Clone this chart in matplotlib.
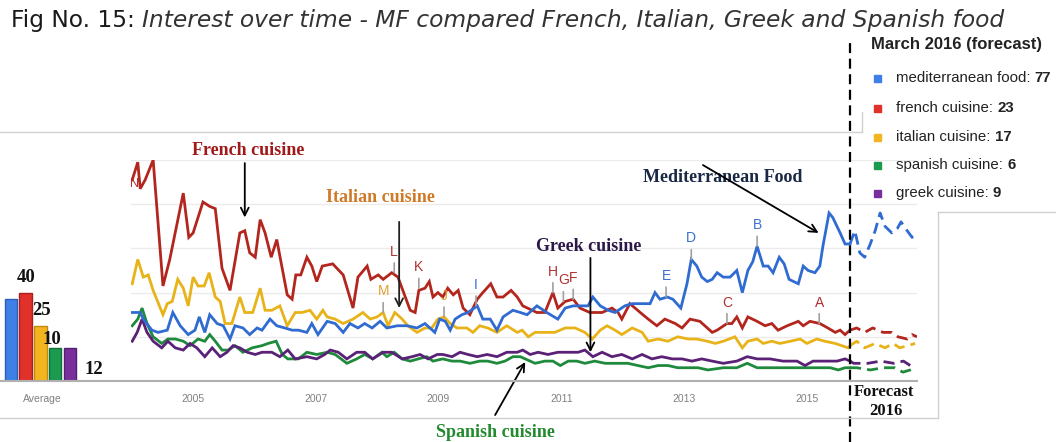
import matplotlib
matplotlib.use("Agg")
import matplotlib.pyplot as plt
from matplotlib.lines import Line2D

W, H = 1056, 442

# ---------------- data ----------------
med_t = [2004.02,2004.15,2004.20,2004.34,2004.44,2004.59,2004.68,2004.80,2004.93,2005.04,2005.11,2005.20,2005.28,2005.40,2005.50,2005.61,2005.69,2005.82,2005.93,2006.05,2006.13,2006.26,2006.37,2006.50,2006.62,2006.72,2006.86,2006.94,2007.04,2007.19,2007.32,2007.45,2007.56,2007.69,2007.80,2007.92,2008.05,2008.16,2008.33,2008.49,2008.65,2008.78,2008.94,2009.02,2009.11,2009.19,2009.27,2009.38,2009.48,2009.63,2009.72,2009.84,2009.95,2010.05,2010.21,2010.33,2010.44,2010.60,2010.76,2010.94,2011.06,2011.19,2011.33,2011.43,2011.51,2011.63,2011.76,2011.87,2012.03,2012.15,2012.28,2012.44,2012.52,2012.60,2012.72,2012.81,2012.94,2013.04,2013.11,2013.20,2013.28,2013.37,2013.45,2013.53,2013.63,2013.74,2013.85,2013.94,2014.03,2014.11,2014.18,2014.28,2014.36,2014.44,2014.54,2014.62,2014.70,2014.85,2014.93,2015.01,2015.12,2015.20,2015.25,2015.35,2015.41,2015.53,2015.61,2015.69]
med_v = [31,31,28,23,22,23,31,25,21,23,29,22,30,26,25,19,25,24,21,24,23,28,25,24,23,23,22,26,21,27,26,22,26,24,26,24,27,24,25,25,24,26,22,28,27,23,28,30,31,34,28,28,23,29,32,31,30,34,31,28,33,34,34,34,38,34,32,31,34,35,35,35,40,37,38,37,33,44,55,52,47,45,46,49,47,47,50,40,50,54,61,52,52,49,56,53,46,44,52,50,49,52,61,76,74,67,62,62]
med_ft = [2015.69,2015.77,2015.85,2015.93,2016.02,2016.10,2016.18,2016.26,2016.37,2016.46,2016.52,2016.62,2016.70,2016.78]
med_fv = [62,68,58,56,62,68,76,70,67,69,72,68,65,67]

fr_t = [2004.02,2004.11,2004.15,2004.23,2004.36,2004.52,2004.63,2004.85,2004.94,2005.01,2005.17,2005.28,2005.37,2005.48,2005.61,2005.77,2005.85,2005.93,2006.02,2006.10,2006.18,2006.28,2006.37,2006.54,2006.62,2006.68,2006.76,2006.86,2006.94,2007.02,2007.11,2007.28,2007.45,2007.61,2007.69,2007.84,2007.90,2008.02,2008.10,2008.24,2008.34,2008.46,2008.54,2008.62,2008.68,2008.78,2008.85,2008.91,2008.99,2009.07,2009.15,2009.24,2009.32,2009.40,2009.51,2009.63,2009.72,2009.85,2009.95,2010.05,2010.18,2010.28,2010.37,2010.60,2010.73,2010.86,2010.94,2011.06,2011.19,2011.30,2011.46,2011.66,2011.82,2011.92,2011.98,2012.11,2012.28,2012.41,2012.55,2012.68,2012.85,2012.96,2013.09,2013.25,2013.45,2013.53,2013.69,2013.77,2013.85,2013.94,2014.03,2014.18,2014.31,2014.42,2014.52,2014.67,2014.85,2014.93,2015.04,2015.20,2015.33,2015.45,2015.53,2015.61,2015.69]
fr_v = [91,99,87,91,100,43,55,85,65,67,81,79,78,51,41,67,68,58,56,73,67,56,64,39,37,48,48,56,52,45,52,53,48,33,47,52,46,48,46,49,47,38,32,31,41,42,45,38,40,38,42,39,41,33,30,37,40,44,38,38,41,38,34,31,31,40,33,36,37,33,31,31,33,31,28,35,31,28,25,28,26,24,28,27,22,23,26,26,29,24,29,27,25,26,23,25,27,25,27,26,24,22,23,21,23]
fr_ft = [2015.69,2015.80,2015.93,2016.06,2016.23,2016.37,2016.47,2016.62,2016.70,2016.78]
fr_fv = [23,24,22,24,22,22,20,19,21,20]

it_t = [2004.02,2004.11,2004.20,2004.28,2004.36,2004.52,2004.59,2004.67,2004.76,2004.85,2004.93,2005.01,2005.09,2005.19,2005.27,2005.37,2005.45,2005.53,2005.64,2005.77,2005.85,2005.98,2006.10,2006.18,2006.29,2006.42,2006.54,2006.67,2006.78,2006.91,2007.02,2007.12,2007.19,2007.32,2007.45,2007.61,2007.77,2007.89,2008.00,2008.10,2008.18,2008.29,2008.41,2008.50,2008.65,2008.78,2008.89,2008.99,2009.09,2009.19,2009.30,2009.46,2009.56,2009.67,2009.80,2009.95,2010.11,2010.28,2010.36,2010.46,2010.57,2010.73,2010.89,2011.06,2011.22,2011.38,2011.50,2011.63,2011.74,2011.87,2011.98,2012.15,2012.31,2012.41,2012.57,2012.73,2012.89,2013.06,2013.20,2013.37,2013.50,2013.63,2013.82,2013.94,2014.03,2014.18,2014.28,2014.42,2014.55,2014.72,2014.88,2014.99,2015.15,2015.28,2015.45,2015.66,2015.69]
it_v = [44,55,47,48,41,30,35,36,46,42,34,47,43,43,49,38,36,26,26,38,31,31,42,32,32,34,25,31,31,32,28,32,29,28,26,28,31,28,29,31,25,31,28,25,22,24,24,28,29,26,24,24,22,25,24,22,25,22,23,20,22,22,22,24,24,22,19,23,25,23,21,24,22,18,19,18,20,19,19,18,17,18,20,15,18,19,17,18,17,18,19,17,19,18,17,15,16]
it_ft = [2015.69,2015.80,2015.93,2016.10,2016.26,2016.39,2016.50,2016.63,2016.75]
it_fv = [16,18,15,17,15,17,15,16,17]

es_t = [2004.02,2004.11,2004.18,2004.26,2004.36,2004.50,2004.60,2004.72,2004.85,2004.96,2005.09,2005.20,2005.28,2005.37,2005.48,2005.58,2005.69,2005.82,2005.97,2006.13,2006.23,2006.36,2006.46,2006.55,2006.72,2006.86,2007.02,2007.19,2007.32,2007.51,2007.67,2007.80,2007.93,2008.08,2008.16,2008.28,2008.41,2008.54,2008.67,2008.81,2008.91,2009.07,2009.22,2009.35,2009.51,2009.67,2009.80,2009.95,2010.08,2010.21,2010.33,2010.41,2010.57,2010.73,2010.86,2010.98,2011.11,2011.25,2011.38,2011.54,2011.71,2011.87,2012.08,2012.24,2012.41,2012.57,2012.73,2012.89,2013.06,2013.22,2013.38,2013.63,2013.85,2014.02,2014.18,2014.34,2014.50,2014.72,2014.93,2015.15,2015.37,2015.50,2015.61,2015.69]
es_v = [25,28,33,26,20,17,19,19,18,16,19,18,21,18,14,14,16,13,15,16,17,18,12,10,10,13,12,13,12,8,10,12,10,13,11,13,10,9,10,11,9,10,9,9,8,9,9,8,9,11,11,10,8,9,9,7,9,9,8,9,8,8,8,7,6,7,7,6,6,6,5,6,6,8,6,6,6,6,6,6,6,5,6,6]
es_ft = [2015.69,2015.80,2016.02,2016.23,2016.42,2016.55,2016.67,2016.75]
es_fv = [6,6,5,6,6,4,5,6]

gr_t = [2004.02,2004.10,2004.18,2004.26,2004.36,2004.50,2004.60,2004.72,2004.85,2004.96,2005.07,2005.20,2005.32,2005.45,2005.56,2005.66,2005.77,2005.89,2006.02,2006.13,2006.29,2006.42,2006.55,2006.67,2006.86,2007.02,2007.15,2007.24,2007.37,2007.51,2007.67,2007.80,2007.93,2008.10,2008.24,2008.41,2008.57,2008.70,2008.83,2008.98,2009.07,2009.22,2009.35,2009.48,2009.63,2009.79,2009.95,2010.11,2010.28,2010.37,2010.49,2010.62,2010.78,2010.94,2011.11,2011.27,2011.38,2011.51,2011.66,2011.82,2011.98,2012.15,2012.31,2012.47,2012.63,2012.80,2012.96,2013.12,2013.28,2013.45,2013.63,2013.85,2014.02,2014.18,2014.39,2014.60,2014.83,2014.96,2015.09,2015.32,2015.48,2015.61,2015.69]
gr_v = [18,22,28,22,18,15,18,15,14,17,15,11,15,11,13,16,15,13,12,13,13,11,14,10,11,10,12,14,13,10,13,13,10,13,13,10,11,12,10,12,12,11,13,12,11,12,11,13,13,14,12,13,12,13,13,13,14,11,13,11,12,10,12,10,11,10,10,9,10,9,8,9,11,10,10,9,9,7,9,9,9,10,9]
gr_ft = [2015.69,2015.75,2015.98,2016.19,2016.40,2016.56,2016.67,2016.75]
gr_fv = [9,8,8,9,8,9,7,8]

avg_values = [37, 40, 25, 15, 15]
avg_labels = ["", "40", "25", "10", "12"]
year_ticks = [2005, 2007, 2009, 2011, 2013, 2015]
forecast_start = 2015.69

legend_names = ["mediterranean food", "french cuisine", "italian cuisine", "spanish cuisine", "greek cuisine"]
legend_vals = ["77", "23", "17", "6", "9"]

# event letters: (letter, date, value on line, colour key)
letters = [("L", 2008.28, 49, "fr"), ("K", 2008.68, 42, "fr"), ("M", 2008.10, 31, "it"),
           ("J", 2009.09, 29, "it"), ("I", 2009.61, 34, "med"), ("H", 2010.86, 40, "fr"),
           ("G", 2011.03, 36, "fr"), ("F", 2011.19, 37, "fr"), ("E", 2012.70, 38, "med"),
           ("D", 2013.11, 55, "med"), ("C", 2013.69, 26, "fr"), ("B", 2014.18, 61, "med"),
           ("A", 2015.19, 26, "fr")]

# ---------------- style ----------------
LC = {"med": "#2f6bd1", "fr": "#b3261e", "it": "#e8b318", "es": "#1f8a3c", "gr": "#5a2177"}
BC = ["#3f80e8", "#e0322a", "#f2b520", "#1c9a50", "#7a2e9c"]
BE = ["#2a5fb8", "#a82020", "#c08a10", "#107038", "#52206e"]
LETC = {"med": "#3a6fd0", "fr": "#b03030", "it": "#e0a030"}

fig = plt.figure(figsize=(W / 100, H / 100), dpi=100)
fig.patch.set_facecolor("white")

def fx(x): return x / W
def fy(y): return 1 - y / H

# main axes
ax = fig.add_axes([fx(131), fy(381), fx(917) - fx(131), fy(160) - fy(381)])
ax.set_xlim(2004.0, 2016.78)
ax.set_ylim(0, 100)
for s in ax.spines.values():
    s.set_visible(False)
ax.set_yticks([])
ax.set_xticks(year_ticks)
ax.set_xticklabels([str(y) for y in year_ticks], color="#808080", fontsize=7.5,
                   family="Liberation Sans")
ax.tick_params(axis="x", length=0, pad=9)
for g in [20, 40, 60, 80, 100]:
    ax.axhline(g, color="#ebebeb", lw=1, zorder=0)

series = [("es", es_t, es_v, es_ft, es_fv), ("gr", gr_t, gr_v, gr_ft, gr_fv),
          ("it", it_t, it_v, it_ft, it_fv), ("fr", fr_t, fr_v, fr_ft, fr_fv),
          ("med", med_t, med_v, med_ft, med_fv)]
for key, t, v, ft, fv in series:
    ax.plot(t, v, color=LC[key], lw=2.0, solid_joinstyle="miter", zorder=3)
    ax.plot(ft, fv, color=LC[key], lw=2.0, ls=(0, (4, 2.2)), zorder=3)

# letters
for let, t, v, k in letters:
    ax.annotate(let, xy=(t, v), xytext=(0, 21), textcoords="offset pixels",
                ha="center", va="center", color=LETC[k], fontsize=10,
                family="Liberation Sans",
                arrowprops=dict(arrowstyle="-", color="#a0a0a0", lw=1.2,
                                shrinkA=1, shrinkB=0), zorder=4)
ax.text(2004.06, 89, "N", color=LETC["fr"], fontsize=9, family="Liberation Sans",
        ha="center", va="center", zorder=2)

# forecast dashed line
ax.plot([forecast_start, forecast_start], [-27.6, 154.3], color="black", lw=1.6,
        ls=(0, (4.5, 2.5)), clip_on=False, zorder=6)

serif = "Liberation Serif"
def label(txt, x, y, c, size=13):
    ax.text(x, y, txt, color=c, fontsize=size, fontweight="bold", family=serif,
            ha="center", va="center", clip_on=False, zorder=7)

def arrow(x0, y0, x1, y1, c="black"):
    ax.annotate("", xy=(x1, y1), xytext=(x0, y0), annotation_clip=False,
                arrowprops=dict(arrowstyle="->", color=c, lw=1.3,
                                mutation_scale=14, shrinkA=0, shrinkB=0), zorder=7)

label("French cuisine", 2005.90, 104.5, "#a01818")
arrow(2005.85, 98.6, 2005.85, 74)
label("Italian cuisine", 2008.05, 83, "#d07a28")
arrow(2008.36, 72, 2008.36, 33, c="#222222")
label("Greek cuisine", 2011.44, 61, "#2c1848")
arrow(2011.47, 55.7, 2011.47, 13)
label("Mediterranean Food", 2013.62, 92, "#1a2846")
arrow(2013.30, 97.7, 2015.18, 67)
label("Spanish cuisine", 2009.92, -23.3, "#238a2e")
arrow(2009.92, -15.4, 2010.41, 8.6)
label("Forecast", 2016.24, -5, "#111111", 12)
label("2016", 2016.28, -13.6, "#111111", 12)

# ---------------- average bars ----------------
bx = fig.add_axes([0, fy(381), fx(131), fy(160) - fy(381)])
bx.set_xlim(-0.75, 8.16)
bx.set_ylim(0, 100)
bx.bar(range(5), avg_values, width=0.85, color=BC, edgecolor=BE, lw=1.0, zorder=3)
for s in bx.spines.values():
    s.set_visible(False)
bx.set_yticks([])
bx.set_xticks([2.1])
bx.set_xticklabels(["Average"], color="#808080", fontsize=7.5, family="Liberation Sans")
bx.tick_params(axis="x", length=0, pad=9)
lab_pos = [(0, 0), (1.0, 47), (2.1, 31.7), (2.8, 19), (5.6, 5)]
for (px_, py_), txt in zip(lab_pos, avg_labels):
    if txt:
        bx.text(px_, py_, txt, fontsize=13.5, fontweight="bold", family=serif,
                ha="center", va="center", color="#111111", clip_on=False, zorder=5)

# ---------------- frames & baseline ----------------
def fline(x0, y0, x1, y1, c="#d0d0d0", lw=1.0):
    fig.add_artist(Line2D([fx(x0), fx(x1)], [fy(y0), fy(y1)], color=c, lw=lw,
                          transform=fig.transFigure))

fline(0, 381, 917, 381, c="#b0b0b0", lw=1.5)
fline(0, 132, 862, 132)
fline(862, 112, 862, 132)
fline(938, 212, 1056, 212)
fline(938, 212, 938, 418)
fline(0, 418, 938, 418)

# ---------------- legend ----------------
fig.text(fx(871), fy(45), "March 2016 (forecast)", fontsize=12, fontweight="bold",
         family="Liberation Sans", color="#222222", va="center", ha="left")
leg_y = [78, 108, 137, 165, 193]
for i, (nm, val, yy) in enumerate(zip(legend_names, legend_vals, leg_y)):
    fig.patches.append(plt.Rectangle((fx(874), fy(yy + 3.5)), fx(7), 7 / H,
                                     transform=fig.transFigure, color=BC[i]))
    t = fig.text(fx(896), fy(yy), nm + ": ", fontsize=10.8, family="Liberation Sans",
                 color="#222222", va="center", ha="left")
    fig.canvas.draw()
    bb = t.get_window_extent()
    fig.text(bb.x1 / W, fy(yy), val, fontsize=10.8, fontweight="bold",
             family="Liberation Sans", color="#222222", va="center", ha="left")

# ---------------- title ----------------
TF = "DejaVu Sans"
TS = 16.8
t1 = fig.text(fx(11), fy(21), "Fig No. 15: ", fontsize=TS, family=TF,
              color="#1a1a1a", va="center", ha="left")
fig.canvas.draw()
bb = t1.get_window_extent()
fig.text(bb.x1 / W, fy(21), "Interest over time - MF compared French, Italian, Greek and Spanish food",
         fontsize=TS, family=TF, style="italic", color="#333333",
         va="center", ha="left")

fig.savefig("out.png", dpi=100, facecolor="white")
